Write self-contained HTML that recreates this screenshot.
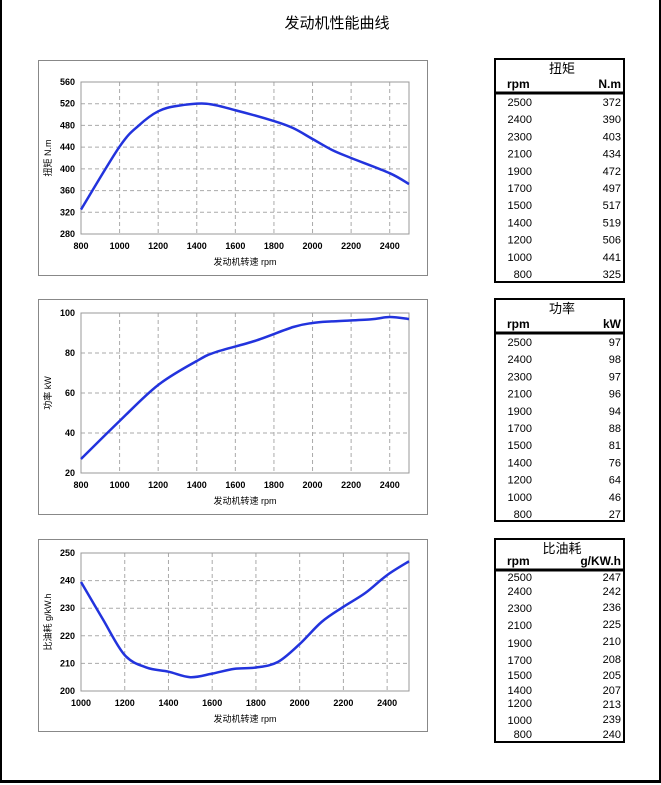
<!DOCTYPE html>
<html><head><meta charset="utf-8">
<style>
html,body{margin:0;padding:0;background:#fff;}
body{width:661px;height:785px;position:relative;overflow:hidden;font-family:"Liberation Sans","Noto Sans CJK SC",sans-serif;}
#pg{position:absolute;left:0;top:0;width:657px;height:780px;border-left:2px solid #000;border-right:2px solid #000;border-bottom:3px solid #000;}
svg{position:absolute;left:0;top:0;}
</style></head><body>
<div id="pg"></div>
<svg id="s" width="661" height="785" xmlns="http://www.w3.org/2000/svg" font-family="Liberation Sans, Noto Sans CJK SC, sans-serif">
<text x="337" y="28" font-size="15" text-anchor="middle">发动机性能曲线</text>
</svg>
<script>
var s=document.getElementById('s'),NS='http://www.w3.org/2000/svg';
function el(t,a,txt){var e=document.createElementNS(NS,t);for(var k in a)e.setAttribute(k,a[k]);if(txt!==undefined)e.textContent=txt;s.appendChild(e);return e;}
function cr(p){var d='M'+p[0][0]+','+p[0][1];for(var i=0;i<p.length-1;i++){var p0=p[i-1]||p[i],p1=p[i],p2=p[i+1],p3=p[i+2]||p2;
d+=' C'+(p1[0]+(p2[0]-p0[0])/6)+','+(p1[1]+(p2[1]-p0[1])/6)+' '+(p2[0]-(p3[0]-p1[0])/6)+','+(p2[1]-(p3[1]-p1[1])/6)+' '+p2[0]+','+p2[1];}return d;}
function chart(c){
el('rect',{x:38.5,y:c.fy+.5,width:389,height:c.fh,fill:'#fff',stroke:'#888','stroke-width':1});
var L=81,R=409,T=c.t,B=c.b;
function X(v){return L+(v-c.x0)/(c.x1-c.x0)*(R-L);}
function Y(v){return B-(v-c.y0)/(c.y1-c.y0)*(B-T);}
for(var v=c.x0;v<=c.x1;v+=200){var x=X(v);if(v>c.x0)el('line',{x1:x,y1:T,x2:x,y2:B,stroke:'#aaa','stroke-dasharray':'4,3'});
el('text',{x:x,y:B+15,'font-size':9,'font-weight':'bold','text-anchor':'middle'},String(v));}
for(var v=c.y0;v<=c.y1;v+=c.ys){var y=Y(v);if(v>c.y0)el('line',{x1:L,y1:y,x2:R,y2:y,stroke:'#aaa','stroke-dasharray':'4,3'});
el('text',{x:L-6,y:y+3,'font-size':9,'font-weight':'bold','text-anchor':'end'},String(v));}
el('rect',{x:L,y:T,width:R-L,height:B-T,fill:'none',stroke:'#999'});
el('path',{d:cr(c.d.map(function(p){return[X(p[0]),Y(p[1])]})),fill:'none',stroke:'#2233dd','stroke-width':2.5});
el('text',{x:245,y:B+31,'font-size':9,'text-anchor':'middle'},'发动机转速  rpm');
el('text',{x:0,y:0,'font-size':9,'text-anchor':'middle',transform:'translate(51,'+((T+B)/2)+') rotate(-90)'},c.yl);
}
chart({fy:60,fh:215,t:82,b:234,x0:800,x1:2500,y0:280,y1:560,ys:40,yl:'扭矩 N.m',
d:[[800,325],[1000,441],[1100,480],[1200,506],[1300,516],[1450,520],[1600,508],[1800,488],[1900,475],[2000,455],[2100,435],[2200,420],[2400,392],[2500,372]]});
chart({fy:299,fh:215,t:313,b:473,x0:800,x1:2500,y0:20,y1:100,ys:20,yl:'功率  kW',
d:[[800,27],[1000,46],[1200,64],[1400,76],[1500,80.5],[1700,86],[1900,93],[2000,95],[2100,95.8],[2300,96.8],[2400,98],[2500,97]]});
chart({fy:539,fh:192,t:553,b:691,x0:1000,x1:2500,y0:200,y1:250,ys:10,yl:'比油耗 g/kW.h',
d:[[1000,239.5],[1100,226],[1200,213],[1300,208.5],[1400,207],[1500,205],[1600,206.3],[1700,208],[1800,208.5],[1900,210.5],[2000,217],[2100,225],[2200,230.5],[2300,235.5],[2400,242],[2500,247]]});
function table(c){
el('rect',{x:495,y:c.top,width:129,height:c.bot-c.top,fill:'#fff',stroke:'#000','stroke-width':2});
el('line',{x1:495,y1:c.hl,x2:624,y2:c.hl,stroke:'#000','stroke-width':3});
el('text',{x:562,y:c.top+14,'font-size':13,'text-anchor':'middle'},c.title);
el('text',{x:507,y:c.hl-5,'font-size':12,'font-weight':'bold'},'rpm');
el('text',{x:621,y:c.hl-5,'font-size':12,'font-weight':'bold','text-anchor':'end'},c.unit);
var r=['2500','2400','2300','2100','1900','1700','1500','1400','1200','1000','800'];
for(var i=0;i<11;i++){var y=c.ry[i]+4;el('text',{x:532,y:y,'font-size':11,'text-anchor':'end'},r[i]);
el('text',{x:621,y:(c.vy?c.vy[i]:c.ry[i])+4,'font-size':11,'text-anchor':'end'},c.v[i]);}
}
function seq(a,st){var o=[];for(var i=0;i<11;i++)o.push(a+i*st);return o;}
table({top:59,bot:282,hl:93,title:'扭矩',unit:'N.m',ry:seq(102,17.2),v:['372','390','403','434','472','497','517','519','506','441','325']});
table({top:299,bot:521,hl:333,title:'功率',unit:'kW',ry:seq(342,17.2),v:['97','98','97','96','94','88','81','76','64','46','27']});
table({top:539,bot:742,hl:570,title:'比油耗',unit:'g/KW.h',ry:[577,591,608,625,643,660,675,690,703,720,734],vy:[577,591,607,624,641,659,675,690,704,719,734],v:['247','242','236','225','210','208','205','207','213','239','240']});
</script>
</body></html>
